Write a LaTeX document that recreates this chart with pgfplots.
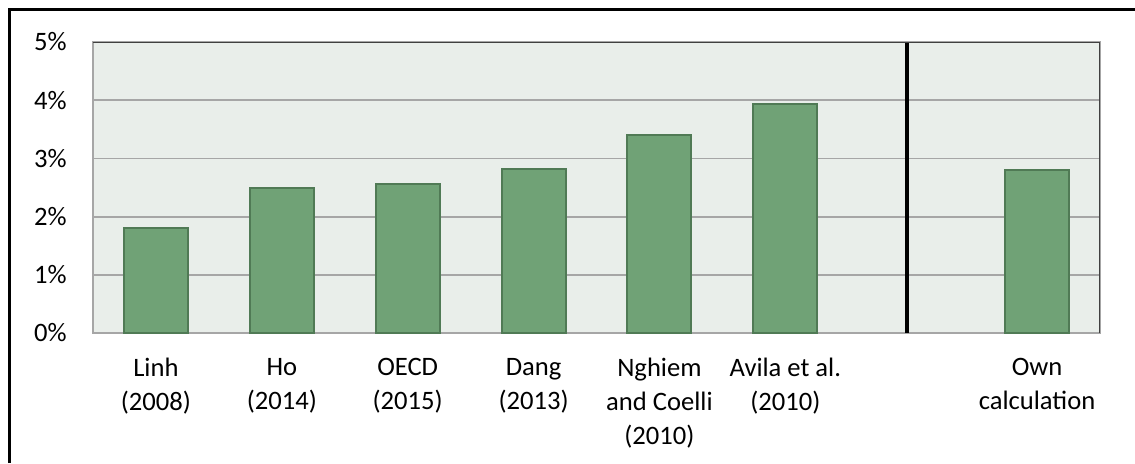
\documentclass[border=0pt]{standalone}
\usepackage{fontspec}
\setmainfont{Carlito}
\usepackage{pgfplots}
\pgfplotsset{compat=1.18}

\definecolor{plotbg}{HTML}{E9EEEA}
\definecolor{barfill}{HTML}{70A276}
\definecolor{baredge}{HTML}{507A55}
\definecolor{gridc}{HTML}{A6A6A6}
\definecolor{framedark}{HTML}{404040}

\begin{document}
\begin{tikzpicture}[x=1pt,y=1pt]
\fontsize{13.3}{17}\selectfont
% whole picture: 1135 x 463 px, 1px = 0.5pt
\useasboundingbox (0,0) rectangle (567.5,231.5);
\draw[line width=1.5pt] (4.5,0) -- (4.5,227) -- (567.5,227);

\begin{axis}[
  at={(46.5pt,65pt)}, anchor=south west,
  scale only axis,
  width=503.5pt, height=145.5pt,
  xmin=-0.5, xmax=7.5,
  ymin=0, ymax=5,
  ytick={0,1,2,3,4,5},
  yticklabel={\pgfmathprintnumber{\tick}\%},
  xtick={0,1,2,3,4,5,7},
  xticklabels={{Linh\\(2008)},{Ho\\(2014)},{OECD\\(2015)},{Dang\\(2013)},{Nghiem\\and Coelli\\(2010)},{Avila et al.\\(2010)},{Own\\calculation}},
  xticklabel style={align=center, inner sep=0pt, anchor=north, yshift=-12.5pt,
                    font=\fontsize{13.3}{17}\selectfont},
  yticklabel style={inner sep=0pt, anchor=east, xshift=-13pt,
                    font=\fontsize{13.3}{17}\selectfont},
  /pgf/number format/assume math mode=true,
  tick style={draw=none},
  ymajorgrids=true,
  grid style={gridc, line width=0.9pt},
  axis line style={gridc, line width=0.9pt},
  axis background/.style={fill=plotbg},
]
\addplot[ybar, bar width=32pt, fill=barfill, draw=baredge, line width=1pt]
  coordinates {(0,1.81)(1,2.49)(2,2.56)(3,2.82)(4,3.40)(5,3.94)(7,2.80)};
\addplot[black, line width=2pt] coordinates {(5.967,0)(5.967,5)};
\draw[framedark, line width=0.9pt] (rel axis cs:0,1) -- (rel axis cs:1,1) -- (rel axis cs:1,0);
\end{axis}
\end{tikzpicture}
\end{document}
